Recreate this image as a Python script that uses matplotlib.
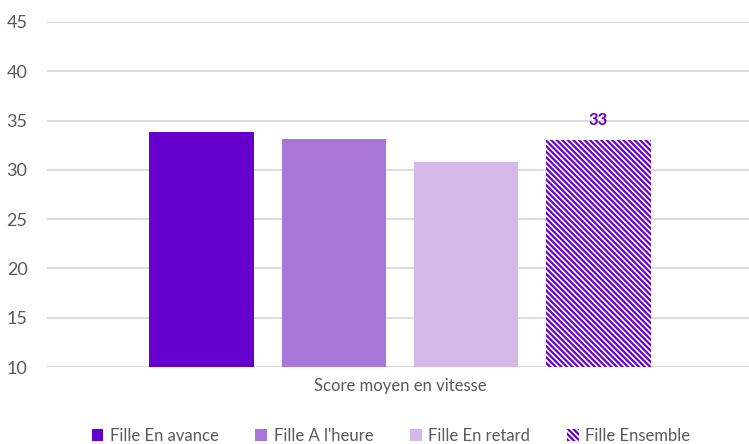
import matplotlib.pyplot as plt
from matplotlib.patches import Patch

# Data
categories = ["Fille En avance", "Fille A l'heure", "Fille En retard", "Fille Ensemble"]
scores = [33.8, 33.1, 30.8, 33.0]
group_label = "Score moyen en vitesse"
shown_label = "33"

colors = ["#6600CC", "#A875D8", "#D4B8E8", "#6600CC"]
grey = "#595959"
hatch = "\\" * 6

plt.rcParams["font.family"] = ["Lato", "DejaVu Sans"]
plt.rcParams["hatch.linewidth"] = 1.6

fig = plt.figure(figsize=(7.49, 4.44), dpi=100)
ax = fig.add_axes([47 / 749, 1 - 367 / 444, 706 / 749, 345 / 444])

x = list(range(len(categories)))
handles = []
for i, (cat, val, col) in enumerate(zip(categories, scores, colors)):
    if i == len(categories) - 1:
        ax.bar(x[i], val - 10, bottom=10, width=0.79, facecolor="white",
               edgecolor=col, hatch=hatch, linewidth=0, zorder=3)
        handles.append(Patch(facecolor="white", edgecolor=col, hatch=hatch,
                             linewidth=0, label=cat))
        ax.text(x[i], val + 1.2, shown_label, ha="center", va="bottom",
                color=col, fontsize=12, fontweight="bold")
    else:
        ax.bar(x[i], val - 10, bottom=10, width=0.79, color=col, zorder=3)
        handles.append(Patch(facecolor=col, label=cat))

ax.set_ylim(10, 45)
ax.set_xlim(-1.17, 4.17)
ax.set_yticks(range(10, 46, 5))
ax.yaxis.grid(True, color="#D9D9D9", linewidth=1.3, zorder=0)
ax.set_xticks([])
for s in ax.spines.values():
    s.set_visible(False)
ax.tick_params(axis="y", length=0, labelsize=13, labelcolor=grey, pad=14)

fig.text(400 / 749, 1 - 386 / 444, group_label, ha="center", va="center",
         fontsize=12, color=grey)

fig.legend(handles=handles, loc="center", bbox_to_anchor=(391 / 749, 1 - 436 / 444),
           ncol=4, frameon=False, fontsize=12, handlelength=0.7, handleheight=0.7,
           handletextpad=0.4, columnspacing=2.2, labelcolor=grey)

fig.savefig("out.png", dpi=100)
